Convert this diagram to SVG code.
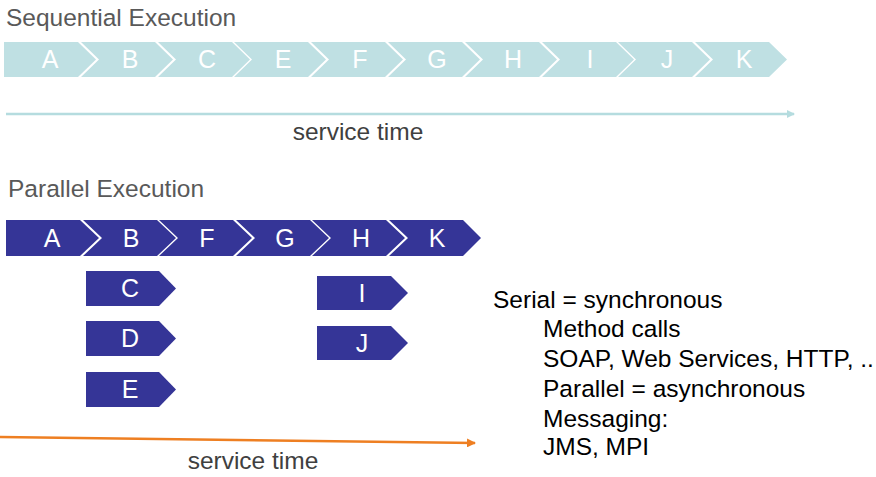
<svg xmlns="http://www.w3.org/2000/svg" width="876" height="477" viewBox="0 0 876 477">
<style>
.title{font-family:"Liberation Sans",Arial,sans-serif;font-size:24.5px;fill:#595959}
.lbl{font-family:"Liberation Sans",Arial,sans-serif;font-size:25px;fill:#ffffff;text-anchor:middle}
.seq{fill:#bfe0e3}
.par{fill:#353597}
.st{font-family:"Liberation Sans",Arial,sans-serif;font-size:24.5px;fill:#404040;text-anchor:middle}
.body{font-family:"Liberation Sans",Arial,sans-serif;font-size:24.5px;fill:#000000}
</style>
<defs>
<marker id="ahTeal" markerWidth="8" markerHeight="8" refX="7" refY="4" orient="auto" markerUnits="userSpaceOnUse"><path d="M0,0 L8,4 L0,8 Z" fill="#b5dcdf"/></marker>
<marker id="ahOrange" markerWidth="9" markerHeight="9" refX="8" refY="4.5" orient="auto" markerUnits="userSpaceOnUse"><path d="M0,0 L9,4.5 L0,9 Z" fill="#ee7f22"/></marker>
</defs>
<text class="title" x="6" y="26">Sequential Execution</text>
<g id="seq-A"><path class="seq" d="M4,42 L78,42 L96,59.5 L78,77 L4,77 Z"/><text class="lbl" x="50" y="68">A</text></g>
<g id="seq-B"><path class="seq" d="M81,42 L155,42 L173,59.5 L155,77 L81,77 L99,59.5 Z"/><text class="lbl" x="130" y="68">B</text></g>
<g id="seq-C"><path class="seq" d="M158,42 L232,42 L250,59.5 L232,77 L158,77 L176,59.5 Z"/><text class="lbl" x="207" y="68">C</text></g>
<g id="seq-E"><path class="seq" d="M234,42 L308,42 L326,59.5 L308,77 L234,77 L252,59.5 Z"/><text class="lbl" x="283" y="68">E</text></g>
<g id="seq-F"><path class="seq" d="M311,42 L385,42 L403,59.5 L385,77 L311,77 L329,59.5 Z"/><text class="lbl" x="360" y="68">F</text></g>
<g id="seq-G"><path class="seq" d="M388,42 L462,42 L480,59.5 L462,77 L388,77 L406,59.5 Z"/><text class="lbl" x="437" y="68">G</text></g>
<g id="seq-H"><path class="seq" d="M465,42 L539,42 L557,59.5 L539,77 L465,77 L483,59.5 Z"/><text class="lbl" x="513" y="68">H</text></g>
<g id="seq-I"><path class="seq" d="M542,42 L616,42 L634,59.5 L616,77 L542,77 L560,59.5 Z"/><text class="lbl" x="590" y="68">I</text></g>
<g id="seq-J"><path class="seq" d="M618,42 L692,42 L710,59.5 L692,77 L618,77 L636,59.5 Z"/><text class="lbl" x="667" y="68">J</text></g>
<g id="seq-K"><path class="seq" d="M695,42 L769,42 L787,59.5 L769,77 L695,77 L713,59.5 Z"/><text class="lbl" x="744" y="68">K</text></g>

<text class="title" x="8" y="197">Parallel Execution</text>
<g id="par-A"><path class="par" d="M6,220 L80,220 L99,238 L80,256 L6,256 Z"/><text class="lbl" x="52" y="247">A</text></g>
<g id="par-B"><path class="par" d="M83,220 L157,220 L176,238 L157,256 L83,256 L102,238 Z"/><text class="lbl" x="131" y="247">B</text></g>
<g id="par-F"><path class="par" d="M159,220 L233,220 L252,238 L233,256 L159,256 L178,238 Z"/><text class="lbl" x="207" y="247">F</text></g>
<g id="par-G"><path class="par" d="M236,220 L310,220 L329,238 L310,256 L236,256 L255,238 Z"/><text class="lbl" x="285" y="247">G</text></g>
<g id="par-H"><path class="par" d="M312,220 L386,220 L405,238 L386,256 L312,256 L331,238 Z"/><text class="lbl" x="361" y="247">H</text></g>
<g id="par-K"><path class="par" d="M389,220 L463,220 L481,238 L463,256 L389,256 L408,238 Z"/><text class="lbl" x="437" y="247">K</text></g>
<g id="par-C"><path class="par" d="M86,271 L159,271 L176,288.5 L159,306 L86,306 Z"/><text class="lbl" x="130" y="297">C</text></g>
<g id="par-D"><path class="par" d="M86,321 L159,321 L176,338.5 L159,356 L86,356 Z"/><text class="lbl" x="130" y="347">D</text></g>
<g id="par-E"><path class="par" d="M86,372 L159,372 L176,389.5 L159,407 L86,407 Z"/><text class="lbl" x="130" y="398">E</text></g>
<g id="par-I"><path class="par" d="M317,276 L391,276 L408,293 L391,310 L317,310 Z"/><text class="lbl" x="362" y="302">I</text></g>
<g id="par-J"><path class="par" d="M317,326 L391,326 L408,343 L391,360 L317,360 Z"/><text class="lbl" x="362" y="352">J</text></g>

<g id="connectors">
<line x1="6" y1="114" x2="794" y2="114" stroke="#b5dcdf" stroke-width="2.5" marker-end="url(#ahTeal)"/>
<line x1="0" y1="437" x2="475" y2="443" stroke="#ee7f22" stroke-width="2.5" marker-end="url(#ahOrange)"/>
</g>
<text class="st" x="358" y="140">service time</text>
<text class="st" x="253" y="469">service time</text>

<g id="notes">
<text class="body" x="493" y="308">Serial = synchronous</text>
<text class="body" x="543" y="337">Method calls</text>
<text class="body" x="543" y="367">SOAP, Web Services, HTTP, ..</text>
<text class="body" x="543" y="397">Parallel = asynchronous</text>
<text class="body" x="543" y="427">Messaging:</text>
<text class="body" x="543" y="455">JMS, MPI</text>
</g>
</svg>
